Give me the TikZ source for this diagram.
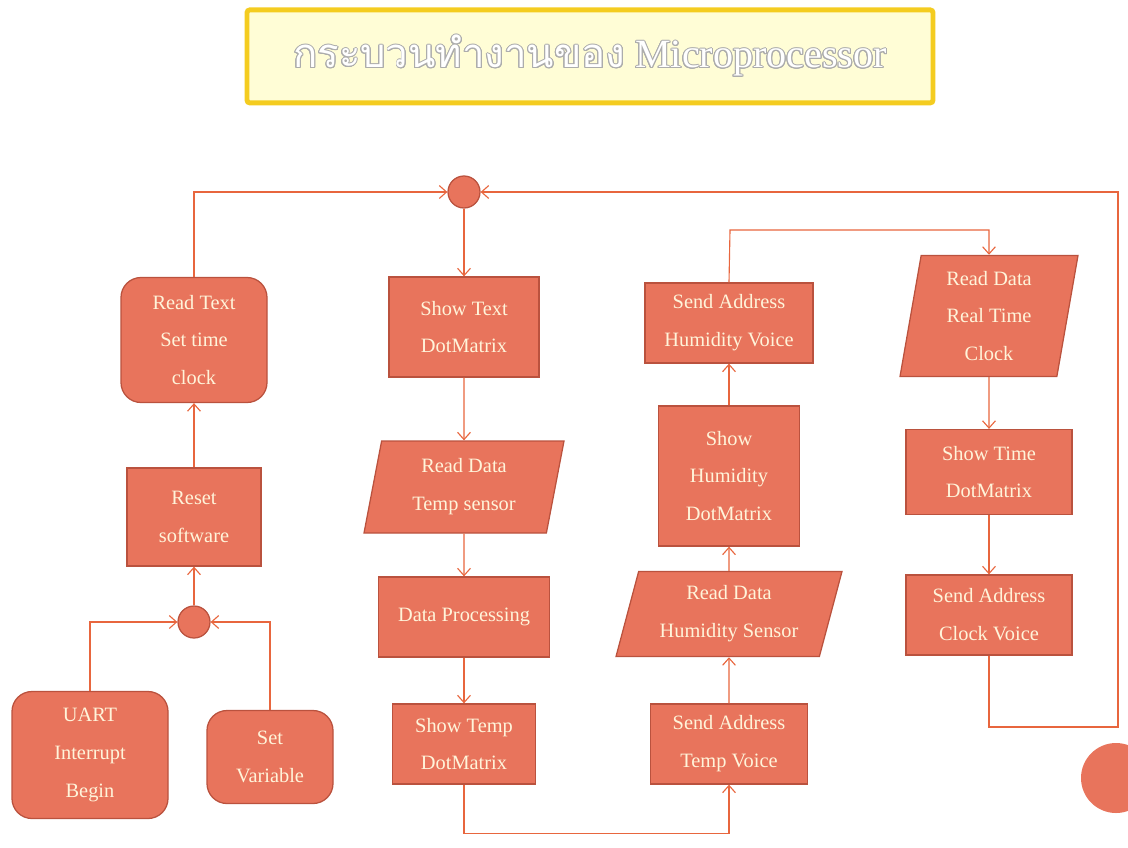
\documentclass[tikz,border=0pt]{standalone}
\usepackage{fontspec}
\setmainfont{Liberation Serif}
\newfontfamily\thaifont[Script=Thai]{Loma}
\usepackage{contour}
\contourlength{0.7pt}
\usepackage{tikz}
\usetikzlibrary{arrows.meta,shapes,positioning}
\definecolor{fcsalmon}{RGB}{232,116,92}
\definecolor{fcborder}{RGB}{186,82,62}
\definecolor{fcline}{RGB}{232,102,62}
\definecolor{fctext}{RGB}{255,244,218}
\definecolor{fcgold}{RGB}{244,204,32}
\definecolor{fccream}{RGB}{255,253,214}
\tikzstyle{arrow} = [line width=0.8pt,color=fcline,-{Straight Barb[length=1.8mm,width=3.2mm]}]
\tikzstyle{process} = [rectangle, minimum width=3.6cm, minimum height=2cm, align=center, draw=fcborder, fill=fcsalmon, text=fctext, line width=0.9pt, font=\fontsize{14.5pt}{27pt}\selectfont]
\tikzstyle{startstop} = [process, rounded corners=0.5cm]
\tikzstyle{io} = [process, trapezium, trapezium stretches body=true, trapezium left angle=75, trapezium right angle=105]
\tikzstyle{junction} = [circle, minimum size=0.8cm, inner sep=0pt, draw=fcborder, fill=fcsalmon, line width=0.9pt]

\begin{document}
\begin{tikzpicture}
\useasboundingbox (0,0) rectangle (28.2,-21.175);
% Title
\node (title) [rectangle, rounded corners=2pt, draw=fcgold, fill=fccream, line width=3.5pt, minimum width=17.15cm, minimum height=2.325cm, font=\fontsize{28.5pt}{34pt}\selectfont] at (14.75,-1.41)
  {\raisebox{-0.15cm}{\color{white}\contour{gray!65}{{\thaifont กระบวนทำงานของ} Microprocessor}}};

% Start
\node (topjoin) [junction] at (11.6,-4.8) {};
\node (readtext) [startstop, minimum width=3.65cm, minimum height=3.125cm] at (4.85,-8.5) {Read Text\\Set time\\clock};
\node (reset) [process, below of=readtext, node distance=4.425cm, minimum width=3.35cm, minimum height=2.45cm] {Reset\\software};
\node (botjoin) [junction, below of=reset, node distance=2.625cm] {};
\node (uart) [startstop, minimum width=3.9cm, minimum height=3.175cm] at (2.25,-18.875) {UART\\Interrupt\\Begin};
\node (setvar) [startstop, minimum width=3.15cm, minimum height=2.325cm] at (6.75,-18.925) {Set\\Variable};

% Temperature
\node (showtext) [process, below of=topjoin, node distance=3.375cm, minimum width=3.75cm, minimum height=2.5cm] {Show Text\\DotMatrix};
\node (readtemp) [io, below of=showtext, node distance=4cm, minimum width=5cm, minimum height=2.3cm] {Read Data\\Temp sensor};
\node (dataproc) [process, below of=readtemp, node distance=3.25cm, minimum width=4.275cm] {Data Processing};
\node (showtemp) [process, below of=dataproc, node distance=3.175cm, minimum width=3.575cm] {Show Temp\\DotMatrix};
\node (tempvoice) [process, right of=showtemp, node distance=6.625cm, minimum width=3.925cm] {Send Address\\Temp Voice};

% Humidity
\node (humsensor) [io, above of=tempvoice, node distance=3.25cm, minimum width=5.65cm, minimum height=2.13cm, trapezium left angle=71, trapezium right angle=109] {Read Data\\Humidity Sensor};
\node (showhum) [process, above of=humsensor, node distance=3.45cm, minimum width=3.525cm, minimum height=3.5cm] {Show\\Humidity\\DotMatrix};
\node (humvoice) [process, above of=showhum, node distance=3.825cm, minimum width=4.2cm] {Send Address\\Humidity Voice};

% Clock
\node (readrtc) [io, minimum width=4.45cm, minimum height=3.03cm, trapezium left angle=78, trapezium right angle=102] at (24.725,-7.9) {Read Data\\Real Time\\Clock};
\node (showtime) [process, below of=readrtc, node distance=3.9cm, minimum width=4.15cm, minimum height=2.125cm] {Show Time\\DotMatrix};
\node (clockvoice) [process, below of=showtime, node distance=3.575cm, minimum width=4.15cm] {Send Address\\Clock Voice};

\node (deco) [circle, minimum size=1.75cm, fill=fcsalmon] at (27.9,-19.45) {};

\coordinate (bottomturn) at (11.6,-20.83);
\coordinate (toprun) at (18.25,-5.75);
\coordinate (rightturn) at (27.95,-18.175);

% Connectors
\draw[arrow] (readtext.north) |- (topjoin.west);
\draw[arrow] (reset) -- (readtext);
\draw[arrow] (botjoin) -- (reset);
\draw[arrow] (uart.north) |- (botjoin.west);
\draw[arrow] (setvar.north) |- (botjoin.east);
\draw[arrow] (topjoin) -- (showtext);
\draw[arrow] (showtext) -- (readtemp);
\draw[arrow] (readtemp) -- (dataproc);
\draw[arrow] (dataproc) -- (showtemp);
\draw[arrow] (showtemp.south) -- (bottomturn) -| (tempvoice.south);
\draw[arrow] (tempvoice) -- (humsensor);
\draw[arrow] (humsensor) -- (showhum);
\draw[arrow] (showhum) -- (humvoice);
\draw[arrow] (humvoice.north) -- (toprun) -| (readrtc.north);
\draw[arrow] (readrtc) -- (showtime);
\draw[arrow] (showtime) -- (clockvoice);
\draw[arrow] (clockvoice.south) |- (rightturn) |- (topjoin.east);
\end{tikzpicture}
\end{document}
